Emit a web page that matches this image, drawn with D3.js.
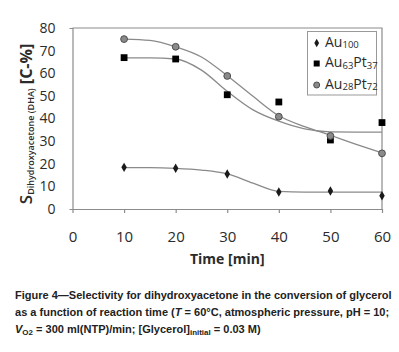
<!DOCTYPE html>
<html>
<head>
<meta charset="utf-8">
<script src="https://cdn.jsdelivr.net/npm/d3@7"></script>
<style>
  body { margin: 0; background: #fff; }
  svg { display: block; }
</style>
</head>
<body>
<script>
// Measured values
const times = [10, 20, 30, 40, 50, 60];
const au100 = [18.4, 18.0, 15.5, 7.5, 8.0, 5.9];
const au63pt37 = [66.9, 66.3, 50.5, 47.3, 30.5, 38.2];
const au28pt72 = [75.1, 71.7, 58.8, 40.8, 32.3, 24.6];

// Fitted trend lines (every 5 min)
const fitTimes = [10, 15, 20, 25, 30, 35, 40, 45, 50, 55, 60];
const fitAu100 = [18.3, 18.3, 18.0, 17.2, 15.5, 11.4, 7.8, 7.5, 7.5, 7.5, 7.5];
const fitAu63pt37 = [66.8, 66.8, 66.3, 61.4, 52.0, 43.8, 38.8, 35.4, 34.1, 34.0, 34.0];
const fitAu28pt72 = [75.1, 74.5, 71.7, 67.2, 58.9, 49.8, 41.2, 36.4, 32.6, 28.6, 24.8];

const xTicks = [0, 10, 20, 30, 40, 50, 60];
const yTicks = [0, 10, 20, 30, 40, 50, 60, 70, 80];

const W = 399, H = 352;
const margin = {left: 72.5, top: 28, right: 17, bottom: 143};
const width = W - margin.left - margin.right;
const height = H - margin.top - margin.bottom;

const svg = d3.select("body").append("svg")
    .attr("width", W)
    .attr("height", H);

const g = svg.append("g")
    .attr("transform", `translate(${margin.left}, ${margin.top})`);

// Scales
const x = d3.scaleLinear().domain([0, 60]).range([0, width]);
const y = d3.scaleLinear().domain([0, 80]).range([height, 0]);

const axisColor = "#8c8c8c";
const textColor = "#2b2b2b";

// Frame (top + right)
g.append("path")
    .attr("d", `M0,0H${width}V${height}`)
    .attr("fill", "none")
    .attr("stroke", axisColor)
    .attr("stroke-width", 1.2);

// Axes
const yAxis = g.append("g")
    .call(d3.axisLeft(y).tickValues(yTicks).tickSizeInner(0).tickSizeOuter(3).tickPadding(17));
const xAxis = g.append("g")
    .attr("transform", `translate(0, ${height})`)
    .call(d3.axisBottom(x).tickValues(xTicks).tickSizeInner(4).tickSizeOuter(0).tickPadding(18));

[yAxis, xAxis].forEach((a) => {
    a.select(".domain").attr("stroke", axisColor).attr("stroke-width", 1.2);
    a.selectAll(".tick line").attr("stroke", axisColor).attr("stroke-width", 1.2);
    a.selectAll("text")
        .attr("fill", textColor)
        .style("font-family", "'Open Sans', sans-serif");
});
yAxis.selectAll("text").style("font-size", "14px");
xAxis.selectAll("text").style("font-size", "15px");

// Axis titles
g.append("text")
    .attr("x", x(30))
    .attr("y", 264 - margin.top)
    .attr("text-anchor", "middle")
    .attr("fill", textColor)
    .style("font-family", "'Open Sans', sans-serif")
    .style("font-size", "14px")
    .style("font-weight", "bold")
    .text("Time [min]");

const yTitle = svg.append("text")
    .attr("transform", "translate(32, 124) rotate(-90)")
    .attr("text-anchor", "middle")
    .attr("fill", textColor)
    .style("font-family", "'Open Sans', sans-serif");
yTitle.append("tspan").style("font-size", "17px").style("font-weight", "600").text("S");
yTitle.append("tspan").style("font-size", "9px").style("font-weight", "600").attr("dy", 2).text("Dihydroxyacetone (DHA)");
yTitle.append("tspan").style("font-size", "16px").style("font-weight", "bold").attr("dy", -2).text(" [C-%]");

// Trend curves
const curveColor = "#8a8a8a";
const line = d3.line()
    .x((d) => x(d[0]))
    .y((d) => y(d[1]))
    .curve(d3.curveMonotoneX);

[fitAu100, fitAu63pt37, fitAu28pt72].forEach((fit) => {
    g.append("path")
        .datum(fitTimes.map((t, i) => [t, fit[i]]))
        .attr("d", line)
        .attr("fill", "none")
        .attr("stroke", curveColor)
        .attr("stroke-width", 1.3);
});

// Markers
const diamond = d3.symbol().type(d3.symbolDiamond).size(26);
g.selectAll(".m100").data(times).enter().append("path")
    .attr("transform", (d, i) => `translate(${x(d)}, ${y(au100[i])})`)
    .attr("d", diamond)
    .attr("fill", "#1a1a1a");

g.selectAll(".m63").data(times).enter().append("rect")
    .attr("x", (d) => x(d) - 3.4)
    .attr("y", (d, i) => y(au63pt37[i]) - 3.4)
    .attr("width", 6.8)
    .attr("height", 6.8)
    .attr("fill", "#000");

g.selectAll(".m28").data(times).enter().append("circle")
    .attr("cx", (d) => x(d))
    .attr("cy", (d, i) => y(au28pt72[i]))
    .attr("r", 3.4)
    .attr("fill", "#8a8a8a")
    .attr("stroke", "#4d4d4d")
    .attr("stroke-width", 1);

// Legend
const legend = svg.append("g");
legend.append("rect")
    .attr("x", 307.5).attr("y", 31.5)
    .attr("width", 69).attr("height", 63.5)
    .attr("fill", "#fff")
    .attr("stroke", "#999")
    .attr("stroke-width", 1);

const legendItems = [
    {parts: [["Au", false], ["100", true]], y: 43},
    {parts: [["Au", false], ["63", true], ["Pt", false], ["37", true]], y: 63.5},
    {parts: [["Au", false], ["28", true], ["Pt", false], ["72", true]], y: 85}
];
legendItems.forEach((it) => {
    const t = legend.append("text")
        .attr("x", 325)
        .attr("y", it.y + 5)
        .attr("fill", textColor)
        .style("font-family", "'Open Sans', sans-serif");
    it.parts.forEach(([s, sub]) => {
        t.append("tspan")
            .style("font-size", sub ? "9.5px" : "14px")
            .attr("dy", sub ? 1.5 : -1.5)
            .text(s);
    });
});
legend.append("path")
    .attr("transform", "translate(316.7, 43)")
    .attr("d", d3.symbol().type(d3.symbolDiamond).size(20))
    .attr("fill", "#1a1a1a");
legend.append("rect")
    .attr("x", 313.7).attr("y", 60.5)
    .attr("width", 6).attr("height", 6)
    .attr("fill", "#000");
legend.append("circle")
    .attr("cx", 316.7).attr("cy", 85)
    .attr("r", 3)
    .attr("fill", "#8a8a8a")
    .attr("stroke", "#4d4d4d");

// Caption
const cap = svg.append("g")
    .attr("fill", "#222")
    .style("font-family", "'Liberation Sans Narrow', 'Arial Narrow', 'Liberation Sans', sans-serif")
    .style("font-size", "12.5px")
    .style("font-weight", "bold");

const l1 = cap.append("text")
    .attr("x", 15).attr("y", 299)
    .text("Figure 4\u2014Selectivity for dihydroxyacetone in the conversion of glycerol");

const l2 = cap.append("text")
    .attr("x", 15).attr("y", 315.7);
l2.append("tspan").text("as a function of reaction time (");
l2.append("tspan").style("font-style", "italic").text("T");
l2.append("tspan").text(" = 60\u00b0C, atmospheric pressure, pH = 10;");

const l3 = cap.append("text")
    .attr("x", 15).attr("y", 332.5);
l3.append("tspan").style("font-style", "italic").text("V");
l3.append("tspan").attr("class", "sub").attr("dy", 2).text("O2");
l3.append("tspan").attr("dy", -2).text(" = 300 ml(NTP)/min; [Glycerol]");
l3.append("tspan").attr("class", "sub").attr("dy", 2).text("initial");
l3.append("tspan").attr("dy", -2).text(" = 0.03 M)");

// fit the caption width to the figure's: line 1 spans 377 px
const fs = 12.5 * 377 / l1.node().getComputedTextLength();
cap.style("font-size", fs + "px");
cap.selectAll(".sub").style("font-size", (fs * 0.72) + "px");
</script>
</body>
</html>
